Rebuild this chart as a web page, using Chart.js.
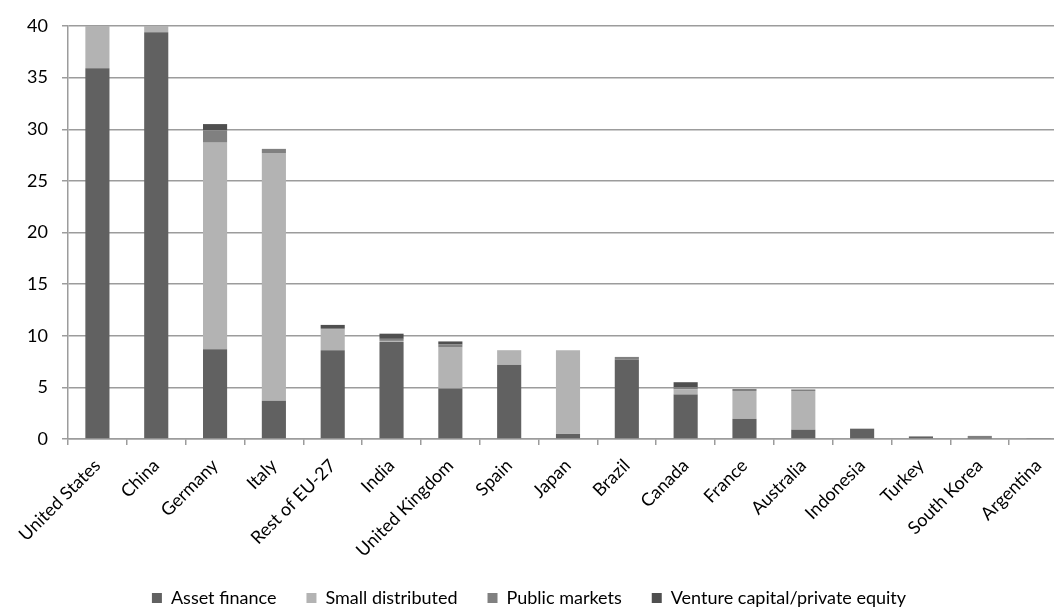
<!DOCTYPE html>
<html>
<head>
<meta charset="utf-8">
<title>Clean energy investment by country</title>
<script src="https://cdn.jsdelivr.net/npm/chart.js@4/dist/chart.umd.min.js"></script>
<style>
  html, body { margin: 0; padding: 0; background: #fff; overflow: hidden; }
  #chart { display: block; }
</style>
</head>
<body>
<canvas id="chart" width="1072" height="617"></canvas>
<script>
// investment by country and type, billions
const countries = ['United States', 'China', 'Germany', 'Italy', 'Rest of EU-27', 'India',
    'United Kingdom', 'Spain', 'Japan', 'Brazil', 'Canada', 'France', 'Australia',
    'Indonesia', 'Turkey', 'South Korea', 'Argentina'];

const assetFinance     = [35.9, 39.4, 8.7, 3.7, 8.6, 9.4, 4.9, 7.2, 0.5, 7.7, 4.3, 1.95, 0.9, 1.0, 0.25, 0.05, 0.05];
const smallDistributed = [4.3, 0.8, 20.0, 24.0, 2.0, 0.1, 4.0, 1.4, 8.1, 0, 0.5, 2.7, 3.75, 0, 0, 0, 0.03];
const publicMarkets    = [0, 0, 1.2, 0.4, 0.15, 0.2, 0.25, 0, 0, 0.25, 0.2, 0.2, 0.15, 0, 0, 0.25, 0];
const ventureCapital   = [0, 0, 0.6, 0, 0.3, 0.5, 0.3, 0, 0, 0, 0.5, 0, 0, 0, 0, 0, 0];

const yTicks = [0, 5, 10, 15, 20, 25, 30, 35, 40];

const FONT = 'Lato, "Open Sans", sans-serif';
const AXIS_GREY = '#9c9c9c';

function series(label, data, color) {
    return {
        label: label,
        data: data,
        backgroundColor: color,
        borderWidth: 0,
        barPercentage: 0.41,
        categoryPercentage: 1.0
    };
}

// nudge the legend row a little to the left of the canvas centre
const legendShift = {
    id: 'legendShift',
    afterLayout(chart) {
        chart.legend.left -= 5;
        chart.legend.right -= 5;
    }
};

const ctx = document.getElementById('chart').getContext('2d');
new Chart(ctx, {
    type: 'bar',
    data: {
        labels: countries,
        datasets: [
            series('Asset finance', assetFinance, '#616161'),
            series('Small distributed', smallDistributed, '#b3b3b3'),
            series('Public markets', publicMarkets, '#808080'),
            series('Venture capital/private equity', ventureCapital, '#4f4f4f')
        ]
    },
    options: {
        responsive: false,
        animation: false,
        devicePixelRatio: 1,
        layout: { padding: { top: 26, left: 0, right: 4, bottom: 0 } },
        plugins: {
            tooltip: { enabled: false },
            legend: {
                position: 'bottom',
                labels: {
                    boxWidth: 10,
                    boxHeight: 10,
                    padding: 30,
                    color: '#000',
                    font: { family: FONT, size: 18 }
                }
            }
        },
        scales: {
            x: {
                stacked: true,
                grid: { drawOnChartArea: false, drawTicks: true, tickLength: 6, color: AXIS_GREY, lineWidth: 1.5 },
                border: { color: AXIS_GREY, width: 1.5 },
                ticks: {
                    autoSkip: false,
                    maxRotation: 45,
                    minRotation: 45,
                    padding: 10,
                    color: '#000',
                    font: { family: FONT, size: 18 }
                },
                afterFit(scale) {
                    scale.height = 120;
                }
            },
            y: {
                stacked: true,
                min: 0,
                max: 40,
                afterBuildTicks(scale) {
                    scale.ticks = yTicks.map(v => ({ value: v }));
                },
                grid: { color: AXIS_GREY, lineWidth: 1.5, tickLength: 6 },
                border: { color: AXIS_GREY, width: 1.5 },
                ticks: {
                    padding: 14,
                    color: '#000',
                    font: { family: FONT, size: 18 }
                },
                afterFit(scale) {
                    scale.width = 68;
                }
            }
        }
    },
    plugins: [legendShift]
});
</script>
</body>
</html>
